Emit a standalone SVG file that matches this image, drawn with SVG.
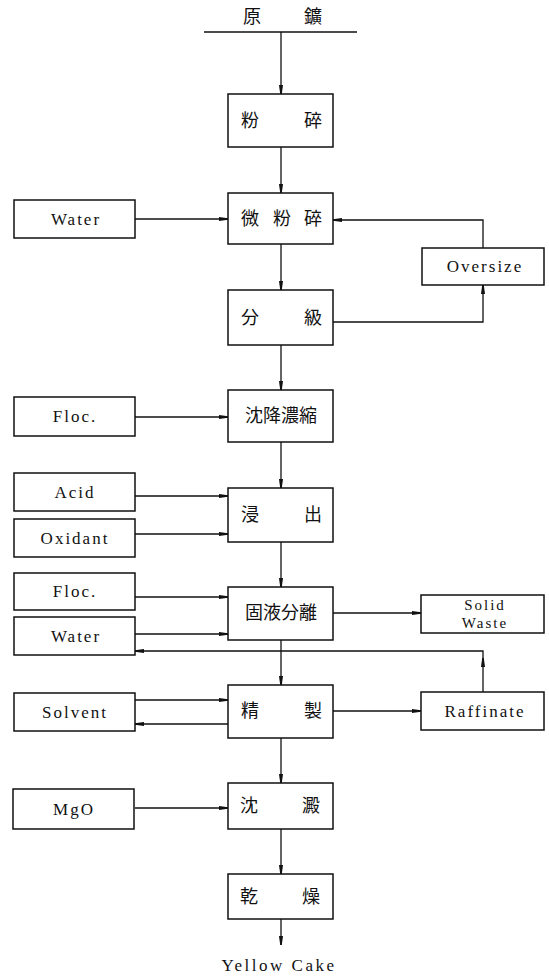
<svg xmlns="http://www.w3.org/2000/svg" width="549" height="976" viewBox="0 0 549 976">
<defs>
<style>
.box{fill:#fff;stroke:#111;stroke-width:1.5}
.ln{fill:none;stroke:#111;stroke-width:1.3}
.ar{marker-end:url(#ah)}
.en{font-family:"Liberation Serif","DejaVu Serif",serif;font-size:17px;fill:#111;text-anchor:middle;letter-spacing:2px}
.sm{font-size:15px}
.cj{font-family:"Noto Sans CJK JP","Noto Sans CJK SC",sans-serif;font-size:18px;fill:#111;text-anchor:middle}
</style>
<marker id="ah" markerWidth="10" markerHeight="6" refX="9" refY="3" orient="auto" markerUnits="userSpaceOnUse">
<path d="M0,1 L9,2.2 L9,3.8 L0,5 z" fill="#111"/>
</marker>
</defs>
<rect width="549" height="976" fill="#fff"/>
<g id="connectors">
<line class="ln" x1="204" y1="32" x2="357" y2="32"/>
<path class="ln ar" d="M281,32 V94"/>
<path class="ln ar" d="M281,147 V193"/>
<path class="ln ar" d="M281,244 V290"/>
<path class="ln ar" d="M281,345 V390"/>
<path class="ln ar" d="M281,442 V488"/>
<path class="ln ar" d="M281,542 V587"/>
<path class="ln ar" d="M281,640 V685"/>
<path class="ln ar" d="M281,738 V783"/>
<path class="ln ar" d="M281,829 V874"/>
<path class="ln ar" d="M281,919 V945"/>
<path class="ln ar" d="M135,219 H228"/>
<path class="ln ar" d="M483,248 V220 H333"/>
<path class="ln ar" d="M333,322 H483 V285"/>
<path class="ln ar" d="M135,417 H228"/>
<path class="ln ar" d="M135,496 H228"/>
<path class="ln ar" d="M135,534 H228"/>
<path class="ln ar" d="M135,597 H228"/>
<path class="ln ar" d="M333,613 H421"/>
<path class="ln ar" d="M135,634 H228"/>
<path class="ln ar" d="M483,692 V658"/>
<path class="ln ar" d="M483,658 V651 H135"/>
<path class="ln ar" d="M135,700 H228"/>
<path class="ln ar" d="M228,724 H135"/>
<path class="ln ar" d="M333,711 H421"/>
<path class="ln ar" d="M135,808 H228"/>
</g>
<g id="raw-ore">
<text class="cj" x="252" y="23">原</text>
<text class="cj" x="313" y="23">鑛</text>
</g>
<g id="crushing">
<rect class="box" x="228" y="94" width="105" height="53"/>
<text class="cj" x="250" y="127">粉</text>
<text class="cj" x="313" y="127">碎</text>
</g>
<g id="fine-grinding">
<rect class="box" x="228" y="193" width="105" height="51"/>
<text class="cj" x="250" y="225">微</text>
<text class="cj" x="282" y="225">粉</text>
<text class="cj" x="313" y="225">碎</text>
</g>
<g id="classification">
<rect class="box" x="228" y="290" width="105" height="55"/>
<text class="cj" x="250" y="324">分</text>
<text class="cj" x="313" y="324">級</text>
</g>
<g id="thickening">
<rect class="box" x="228" y="390" width="105" height="52"/>
<text class="cj" x="281" y="422">沈降濃縮</text>
</g>
<g id="leaching">
<rect class="box" x="228" y="488" width="105" height="54"/>
<text class="cj" x="250" y="521">浸</text>
<text class="cj" x="313" y="521">出</text>
</g>
<g id="sl-separation">
<rect class="box" x="228" y="587" width="105" height="53"/>
<text class="cj" x="281" y="619">固液分離</text>
</g>
<g id="purification">
<rect class="box" x="228" y="685" width="105" height="53"/>
<text class="cj" x="250" y="717">精</text>
<text class="cj" x="313" y="717">製</text>
</g>
<g id="precipitation">
<rect class="box" x="228" y="783" width="105" height="46"/>
<text class="cj" x="249" y="812">沈</text>
<text class="cj" x="311" y="812">澱</text>
</g>
<g id="drying">
<rect class="box" x="228" y="874" width="105" height="45"/>
<text class="cj" x="249" y="903">乾</text>
<text class="cj" x="311" y="903">燥</text>
</g>
<g id="yellow-cake">
<text class="en" x="279" y="971" style="letter-spacing:2.5px">Yellow Cake</text>
</g>
<g id="water1">
<rect class="box" x="14" y="200" width="121" height="38"/>
<text class="en" x="76" y="225">Water</text>
</g>
<g id="oversize">
<rect class="box" x="422" y="248" width="122" height="37"/>
<text class="en" x="485" y="272">Oversize</text>
</g>
<g id="floc1">
<rect class="box" x="14" y="397" width="121" height="39"/>
<text class="en" x="75" y="422">Floc.</text>
</g>
<g id="acid">
<rect class="box" x="14" y="473" width="121" height="38"/>
<text class="en" x="75" y="498">Acid</text>
</g>
<g id="oxidant">
<rect class="box" x="14" y="519" width="121" height="38"/>
<text class="en" x="75" y="544">Oxidant</text>
</g>
<g id="floc2">
<rect class="box" x="14" y="573" width="121" height="37"/>
<text class="en" x="75" y="597">Floc.</text>
</g>
<g id="water2">
<rect class="box" x="14" y="617" width="121" height="38"/>
<text class="en" x="76" y="642">Water</text>
</g>
<g id="solid-waste">
<rect class="box" x="421" y="595" width="123" height="38"/>
<text class="en sm" x="485" y="610">Solid</text>
<text class="en sm" x="485" y="628">Waste</text>
</g>
<g id="solvent">
<rect class="box" x="14" y="693" width="121" height="38"/>
<text class="en" x="75" y="718">Solvent</text>
</g>
<g id="raffinate">
<rect class="box" x="421" y="692" width="123" height="38"/>
<text class="en" x="485" y="717">Raffinate</text>
</g>
<g id="mgo">
<rect class="box" x="13" y="789" width="121" height="40"/>
<text class="en" x="74" y="815">MgO</text>
</g>
</svg>
